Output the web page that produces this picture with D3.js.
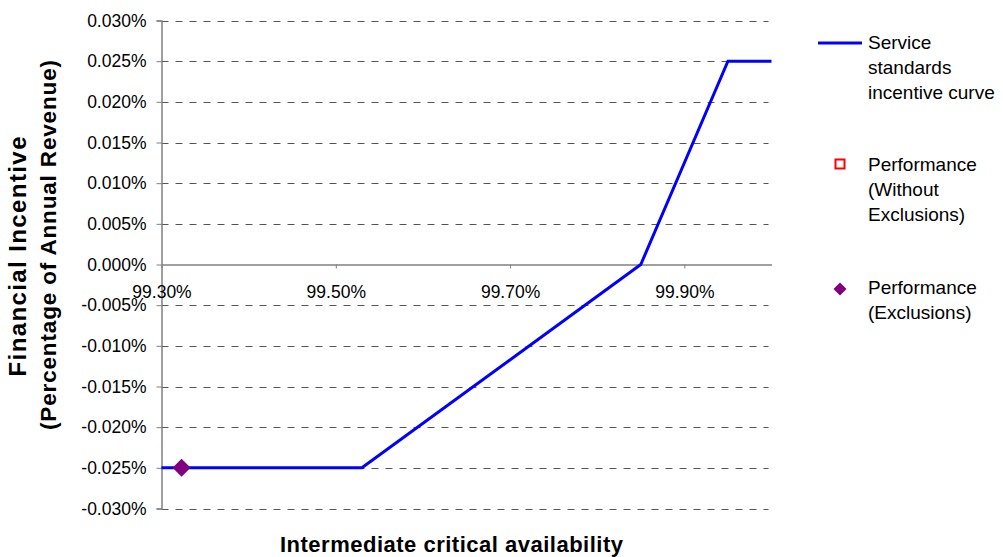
<!DOCTYPE html>
<html>
<head>
<meta charset="utf-8">
<script src="https://cdn.jsdelivr.net/npm/d3@7/dist/d3.min.js"></script>
<style>
  html, body { margin: 0; padding: 0; background: #fff; }
  svg { display: block; font-family: "Liberation Sans", Arial, sans-serif; }
</style>
</head>
<body>
<svg id="chart" width="1003" height="557"></svg>
<script>
// Service standards incentive curve (availability % -> incentive % of revenue)
const curveX = [99.30, 99.53, 99.85, 99.95, 100.00];
const curveY = [-0.025, -0.025, 0.000, 0.025, 0.025];

// Performance points
const withoutExclusionsX = [];
const withoutExclusionsY = [];
const exclusionsX = [99.323];
const exclusionsY = [-0.025];

// Axis ticks
const xTicks = [99.30, 99.50, 99.70, 99.90];
const yTicks = [0.030, 0.025, 0.020, 0.015, 0.010, 0.005, 0.000,
                -0.005, -0.010, -0.015, -0.020, -0.025, -0.030];

// Legend entries
const legendLabels = [
  ["Service", "standards", "incentive curve"],
  ["Performance", "(Without", "Exclusions)"],
  ["Performance", "(Exclusions)"]
];

const svg = d3.select("#chart");

const x = d3.scaleLinear().domain([99.30, 100.00]).range([161.5, 771.5]);
const y = d3.scaleLinear().domain([-0.030, 0.030]).range([508.5, 20.5]);

// plain hyphen for negative numbers
const locale = d3.formatLocale({ decimal: ".", thousands: ",", grouping: [3], currency: ["", ""], minus: "-" });
const fmtY = v => locale.format(".3f")(v) + "%";
const fmtX = v => locale.format(".2f")(v) + "%";

// dashed gridlines
svg.append("g")
  .selectAll("line")
  .data(yTicks.filter(v => v !== 0))
  .join("line")
  .attr("x1", x.range()[0]).attr("x2", x.range()[1] - 3)
  .attr("y1", d => Math.round(y(d)) + 0.5).attr("y2", d => Math.round(y(d)) + 0.5)
  .attr("stroke", "#555").attr("stroke-width", 1)
  .attr("stroke-dasharray", "7,7");

// y axis
const yAxis = svg.append("g")
  .attr("transform", `translate(${x.range()[0]},0)`)
  .call(d3.axisLeft(y).tickValues(yTicks).tickFormat(fmtY).tickSize(5).tickPadding(10));
yAxis.select(".domain").attr("stroke", "#808080").attr("stroke-width", 1.5);
yAxis.selectAll(".tick line").attr("stroke", "#808080");
yAxis.selectAll(".tick text")
  .attr("font-size", 17.5).attr("fill", "#000")
  .attr("font-family", "'Liberation Sans', Arial, sans-serif");

// x axis, crossing at zero
const xAxis = svg.append("g")
  .attr("transform", `translate(0,${y(0)})`)
  .call(d3.axisBottom(x).tickValues(xTicks).tickFormat(fmtX).tickSize(4).tickSizeOuter(0));
xAxis.select(".domain").attr("stroke", "#808080").attr("stroke-width", 1.5);
xAxis.selectAll(".tick line").attr("stroke", "#808080");
xAxis.selectAll(".tick text")
  .attr("y", 33).attr("dy", null)
  .attr("font-size", 17.5).attr("fill", "#000")
  .attr("font-family", "'Liberation Sans', Arial, sans-serif");

// incentive curve
const line = d3.line().x(d => x(d[0])).y(d => y(d[1]));
svg.append("path")
  .datum(curveX.map((v, i) => [v, curveY[i]]))
  .attr("d", line)
  .attr("fill", "none")
  .attr("stroke", "#0000FF")
  .attr("stroke-width", 3)
  .attr("stroke-linejoin", "miter");

// performance without exclusions (open red squares)
svg.append("g")
  .selectAll("rect")
  .data(withoutExclusionsX.map((v, i) => [v, withoutExclusionsY[i]]))
  .join("rect")
  .attr("x", d => x(d[0]) - 5).attr("y", d => y(d[1]) - 5)
  .attr("width", 10).attr("height", 10)
  .attr("fill", "#fff").attr("stroke", "#FF0000").attr("stroke-width", 2);

// performance with exclusions (purple diamonds)
const diamond = r => `M0,${-r}L${r},0L0,${r}L${-r},0Z`;
svg.append("g")
  .selectAll("path")
  .data(exclusionsX.map((v, i) => [v, exclusionsY[i]]))
  .join("path")
  .attr("transform", d => `translate(${x(d[0])},${y(d[1])})`)
  .attr("d", diamond(9))
  .attr("fill", "#800080");

// axis titles
svg.append("text")
  .attr("x", 451.5).attr("y", 552)
  .attr("text-anchor", "middle")
  .attr("font-size", 22).attr("font-weight", "bold")
  .attr("textLength", 343).attr("lengthAdjust", "spacing")
  .text("Intermediate critical availability");

svg.append("text")
  .attr("transform", "translate(25.5,256.5) rotate(-90)")
  .attr("text-anchor", "middle")
  .attr("font-size", 24).attr("font-weight", "bold")
  .attr("textLength", 240).attr("lengthAdjust", "spacing")
  .text("Financial Incentive");

svg.append("text")
  .attr("transform", "translate(55.5,245) rotate(-90)")
  .attr("text-anchor", "middle")
  .attr("font-size", 22.5).attr("font-weight", "bold")
  .attr("textLength", 370).attr("lengthAdjust", "spacing")
  .text("(Percentage of Annual Revenue)");

// legend
const legend = svg.append("g");
const legendTop = [48.5, 171, 294];
legend.append("line")
  .attr("x1", 818).attr("x2", 862).attr("y1", 43).attr("y2", 43)
  .attr("stroke", "#0000FF").attr("stroke-width", 3);
legend.append("rect")
  .attr("x", 835.5).attr("y", 159.5).attr("width", 9).attr("height", 9)
  .attr("fill", "#fff").attr("stroke", "#FF0000").attr("stroke-width", 2);
legend.append("path")
  .attr("transform", "translate(840,289)")
  .attr("d", diamond(6.5))
  .attr("fill", "#800080");

legendLabels.forEach((lines, i) => {
  const t = legend.append("text")
    .attr("x", 868).attr("y", legendTop[i])
    .attr("font-size", 19).attr("fill", "#000");
  lines.forEach((s, j) => {
    t.append("tspan").attr("x", 868).attr("dy", j === 0 ? 0 : 25).text(s);
  });
});
</script>
</body>
</html>
